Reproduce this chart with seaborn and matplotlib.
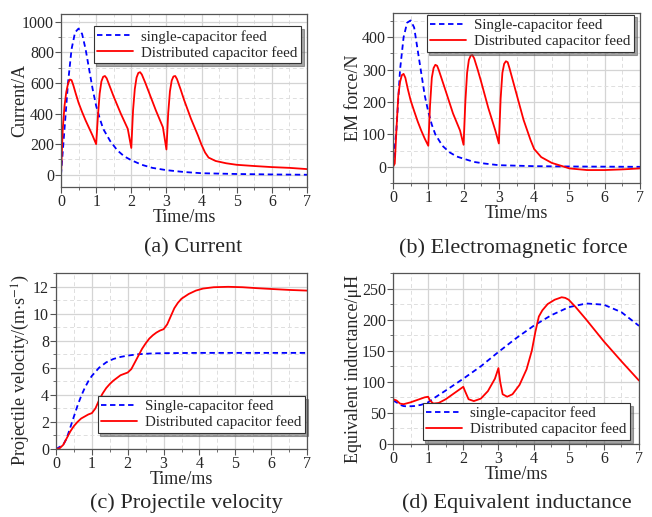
import numpy as np
import pandas as pd
import matplotlib
matplotlib.use("Agg")
import matplotlib.pyplot as plt
from matplotlib.ticker import MultipleLocator
import seaborn as sns

# (a) current
t_a_single = [0, 0.1, 0.2, 0.3, 0.4, 0.5, 0.6, 0.7, 0.8, 0.9, 1.0, 1.1, 1.2, 1.4, 1.6, 1.8,
              2.0, 2.3, 2.6, 3.0, 3.5, 4.0, 5.0, 6.0, 7.0]
i_single = [0, 300, 600, 820, 930, 955, 920, 820, 690, 560, 450, 370, 300, 220, 160, 120,
            95, 65, 45, 30, 18, 10, 5, 2, 0]
t_a_dist = [0, 0.05, 0.1, 0.15, 0.2, 0.25, 0.3, 0.35, 0.42, 0.5, 0.6, 0.7, 0.8, 0.9, 1.0,
            1.05, 1.1, 1.15, 1.2, 1.25, 1.3, 1.4, 1.5, 1.7, 1.9, 2.0,
            2.05, 2.1, 2.15, 2.2, 2.25, 2.3, 2.4, 2.5, 2.7, 2.9, 3.0,
            3.05, 3.1, 3.15, 3.2, 3.25, 3.3, 3.4, 3.5, 3.7, 3.9, 4.0, 4.1, 4.2,
            4.4, 4.7, 5.0, 5.5, 6.0, 6.5, 7.0]
i_dist = [0, 300, 450, 540, 595, 622, 618, 585, 530, 470, 410, 355, 305, 255, 200,
          380, 530, 610, 640, 645, 630, 570, 510, 400, 300, 175,
          420, 560, 635, 665, 670, 655, 600, 540, 420, 310, 165,
          400, 545, 615, 642, 645, 625, 560, 490, 365, 255, 195, 145, 112,
          90, 75, 65, 57, 50, 45, 37]

# (b) electromagnetic force
t_b_single = [0, 0.1, 0.2, 0.3, 0.4, 0.5, 0.6, 0.7, 0.8, 0.9, 1.0, 1.1, 1.2, 1.4, 1.6, 1.8,
              2.0, 2.3, 2.6, 3.0, 4.0, 5.0, 7.0]
f_single = [0, 120, 300, 400, 445, 452, 430, 360, 290, 220, 170, 130, 100, 65, 45, 32,
            25, 15, 10, 5, 2, 1, 0]
t_b_dist = [0, 0.05, 0.1, 0.15, 0.2, 0.25, 0.3, 0.35, 0.42, 0.5, 0.6, 0.7, 0.8, 0.9, 1.0,
            1.05, 1.1, 1.15, 1.2, 1.25, 1.3, 1.4, 1.5, 1.7, 1.9, 2.0,
            2.05, 2.1, 2.15, 2.2, 2.25, 2.3, 2.4, 2.5, 2.7, 2.9, 3.0,
            3.05, 3.1, 3.15, 3.2, 3.25, 3.3, 3.4, 3.5, 3.7, 3.9, 4.0, 4.2, 4.5, 4.8,
            5.0, 5.5, 6.0, 6.5, 7.0]
f_dist = [0, 10, 120, 220, 262, 283, 287, 275, 240, 205, 172, 140, 112, 87, 65,
          190, 275, 305, 315, 312, 298, 265, 232, 165, 112, 68,
          200, 290, 330, 343, 345, 335, 300, 262, 182, 112, 72,
          210, 290, 318, 326, 323, 305, 265, 225, 145, 82, 55, 30, 12, 2,
          -5, -10, -10, -8, -5]

# (c) projectile velocity
t_c_single = [0, 0.2, 0.3, 0.4, 0.5, 0.6, 0.7, 0.8, 0.9, 1.0, 1.2, 1.4, 1.6, 1.8, 2.0, 2.3,
              2.6, 3.0, 4.0, 5.0, 7.0]
v_single = [0, 0.3, 0.8, 1.6, 2.4, 3.2, 3.9, 4.5, 5.0, 5.4, 6.0, 6.4, 6.65, 6.8, 6.9, 7.0,
            7.05, 7.08, 7.1, 7.1, 7.1]
t_c_dist = [0, 0.1, 0.2, 0.3, 0.4, 0.5, 0.6, 0.7, 0.8, 0.9, 1.0, 1.1, 1.2, 1.3, 1.4, 1.5,
            1.6, 1.7, 1.8, 1.9, 2.0, 2.1, 2.2, 2.3, 2.4, 2.5, 2.6, 2.7, 2.8, 2.9, 3.0,
            3.1, 3.2, 3.3, 3.4, 3.5, 3.7, 3.9, 4.1, 4.4, 4.8, 5.2, 5.6, 6.0, 6.5, 7.0]
v_dist = [0, 0.05, 0.3, 0.8, 1.3, 1.7, 2.0, 2.25, 2.4, 2.55, 2.65, 3.0, 3.6, 4.1, 4.5, 4.8,
          5.05, 5.25, 5.45, 5.55, 5.65, 5.9, 6.4, 6.9, 7.4, 7.8, 8.15, 8.4, 8.6, 8.75, 8.85,
          9.2, 9.8, 10.4, 10.8, 11.1, 11.45, 11.7, 11.85, 11.95, 11.98, 11.95, 11.88, 11.82, 11.75, 11.7]

# (d) equivalent inductance
t_d_single = [0, 0.1, 0.2, 0.3, 0.4, 0.6, 0.8, 1.0, 1.2, 1.5, 2.0, 2.5, 3.0, 3.5, 4.0, 4.5,
              5.0, 5.5, 6.0, 6.5, 7.0]
l_single = [70, 67, 63, 61, 60.5, 61, 63, 67, 75, 86, 105, 125, 148, 170, 190, 207,
            220, 226, 224, 212, 190]
t_d_dist = [0, 0.1, 0.2, 0.3, 0.5, 0.7, 0.9, 1.0, 1.05, 1.15, 1.3, 1.5, 1.7, 1.9, 2.0,
            2.05, 2.15, 2.3, 2.5, 2.7, 2.9, 3.0, 3.05, 3.12, 3.25, 3.4, 3.6, 3.8, 3.95,
            4.05, 4.15, 4.25, 4.4, 4.6, 4.8, 4.9, 5.0, 5.2, 5.5, 6.0, 6.5, 7.0]
l_dist = [72, 70, 65, 64, 67, 71, 75, 76, 70, 65, 66, 72, 80, 88, 92,
          85, 72, 69, 73, 85, 105, 122, 100, 80, 76, 80, 95, 120, 150,
          180, 205, 215, 225, 232, 236, 235, 232, 220, 200, 165, 133, 102]

sns.set_theme(style="white")
plt.rcParams["font.family"] = ["Liberation Serif", "DejaVu Serif"]
plt.rcParams["mathtext.fontset"] = "stix"

fig = plt.figure(figsize=(6.52, 5.17), dpi=100)
W, H = 652, 517


def px_axes(l, t, r, b):
    return fig.add_axes([l / W, 1 - b / H, (r - l) / W, (b - t) / H])


def panel(ax, ts, ys, ts2, ys2, names, ylim, ymaj, ymin, ylabel, lab_xy, loc, bbox):
    df = pd.concat([
        pd.DataFrame({"t": ts, "y": ys, "s": names[0]}),
        pd.DataFrame({"t": ts2, "y": ys2, "s": names[1]}),
    ])
    sns.lineplot(data=df, x="t", y="y", hue="s", style="s",
                 palette=["#0000ff", "#ff0000"], dashes=[(3, 2), ""],
                 linewidth=1.3, ax=ax, sort=False, estimator=None)
    ax.set_xlim(0, 7)
    ax.set_ylim(*ylim)
    ax.xaxis.set_major_locator(MultipleLocator(1))
    ax.xaxis.set_minor_locator(MultipleLocator(0.5))
    ax.yaxis.set_major_locator(MultipleLocator(ymaj))
    ax.yaxis.set_minor_locator(MultipleLocator(ymin))
    ax.grid(which="major", color="#d4d4d4", linewidth=0.9, linestyle="-")
    ax.grid(which="minor", color="#dedede", linewidth=0.7, linestyle=(0, (4, 3)))
    ax.set_axisbelow(True)
    for sp in ax.spines.values():
        sp.set_color("#555555")
        sp.set_linewidth(0.9)
    ax.tick_params(which="major", direction="out", length=4, width=0.8, color="#555555",
                   labelsize=11.5, pad=1, bottom=True, left=True)
    ax.tick_params(which="minor", direction="out", length=2, width=0.6, color="#555555",
                   bottom=True, left=True)
    ax.set_xlabel("Time/ms", fontsize=13, labelpad=-1)
    ax.set_ylabel(ylabel, fontsize=13)
    ax.yaxis.set_label_coords(*lab_xy)
    leg = ax.legend(loc=loc, bbox_to_anchor=bbox, fontsize=10.8, frameon=True,
                    fancybox=False, shadow=True, edgecolor="#333333",
                    handlelength=2.4, borderpad=0.25, labelspacing=0.15,
                    handletextpad=0.5, borderaxespad=0.0)
    leg.get_frame().set_linewidth(0.8)
    leg.set_title(None)


ax_a = px_axes(61, 14, 307, 187)
panel(ax_a, t_a_single, i_single, t_a_dist, i_dist,
      ["single-capacitor feed", "Distributed capacitor feed"],
      (-80, 1050), 200, 100, "Current/A", (-0.134, 0.5), "upper right", (0.976, 0.93))

ax_b = px_axes(393, 13, 640, 183)
panel(ax_b, t_b_single, f_single, t_b_dist, f_dist,
      ["Single-capacitor feed", "Distributed capacitor feed"],
      (-50, 475), 100, 50, "EM force/N", (-0.126, 0.5), "upper right", (0.976, 0.99))

ax_c = px_axes(56, 273, 307, 449)
panel(ax_c, t_c_single, v_single, t_c_dist, v_dist,
      ["Single-capacitor feed", "Distributed capacitor feed"],
      (0, 13), 2, 1, r"Projectile velocity/(m$\cdot$s$^{-1}$)", (-0.095, 0.45),
      "lower right", (0.992, 0.09))

ax_d = px_axes(393, 273, 639, 444)
panel(ax_d, t_d_single, l_single, t_d_dist, l_dist,
      ["single-capacitor feed", "Distributed capacitor feed"],
      (0, 275), 50, 25, "Equivalent inductance/\u03bcH", (-0.126, 0.44),
      "lower right", (0.963, 0.023))

fig.text(193 / W, 1 - 248 / H, "(a) Current", ha="center", va="center", fontsize=16)
fig.text(513 / W, 1 - 248 / H, "(b) Electromagnetic force", ha="center", va="center", fontsize=16)
fig.text(186 / W, 1 - 503 / H, "(c) Projectile velocity", ha="center", va="center", fontsize=16)
fig.text(517 / W, 1 - 503 / H, "(d) Equivalent inductance", ha="center", va="center", fontsize=16)

fig.savefig("out.png", dpi=100)
